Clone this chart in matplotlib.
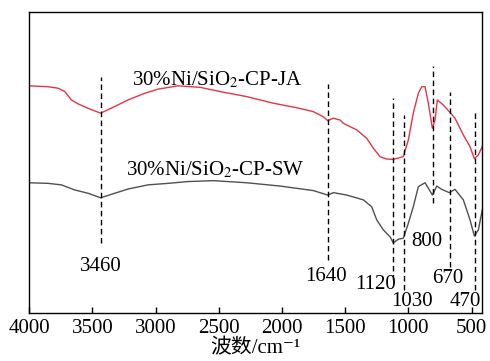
import numpy as np
import matplotlib
matplotlib.use("Agg")
import matplotlib.pyplot as plt

plt.rcParams['font.family'] = ['Liberation Serif', 'Noto Sans CJK SC', 'DejaVu Serif']
plt.rcParams['mathtext.fontset'] = 'stix'

# FTIR spectra (transmittance, a.u. with offset)
wn_ja = [4000, 3850, 3771, 3718, 3666, 3613, 3534, 3434, 3323, 3218, 3086, 2980, 2822,
         2648, 2490, 2279, 2068, 1883, 1752, 1673, 1638, 1593, 1540, 1514, 1408, 1329,
         1277, 1224, 1171, 1119, 1040, 1000, 961, 921, 894, 868, 842, 810, 789, 771,
         723, 670, 631, 565, 512, 478, 446, 415]
t_ja = [75.8, 75.5, 75.0, 73.9, 71.1, 69.8, 68.3, 66.7, 68.9, 71.1, 73.3, 74.7, 75.8,
        75.3, 73.9, 72.2, 70.0, 68.5, 67.2, 65.5, 64.2, 65.0, 64.4, 63.3, 61.1, 58.3,
        55.0, 52.2, 51.4, 51.3, 52.2, 57.8, 66.7, 73.3, 75.5, 75.5, 70.0, 61.7, 64.4, 71.1,
        69.4, 66.9, 65.0, 59.4, 55.5, 51.5, 52.8, 55.6]

wn_sw = [4000, 3850, 3745, 3639, 3534, 3434, 3323, 3218, 3059, 2901, 2743, 2543, 2279,
         2015, 1752, 1638, 1593, 1540, 1487, 1356, 1290, 1250, 1198, 1145, 1119, 1079,
         1040, 1000, 961, 921, 868, 842, 810, 775, 736, 676, 631, 565, 512, 478, 446, 415]
t_sw = [43.5, 43.3, 42.8, 41.1, 40.0, 38.5, 40.0, 41.4, 42.8, 43.3, 43.9, 44.2, 43.5,
        42.4, 40.9, 39.4, 40.2, 39.8, 39.4, 37.8, 35.5, 31.1, 27.8, 25.5, 23.5, 24.7,
        25.0, 30.0, 35.5, 42.2, 43.5, 41.7, 39.4, 42.4, 41.3, 40.2, 41.3, 37.8, 31.1, 25.8,
        27.8, 34.5]

# band markers: drawn position, label text, line extent, label anchor
band_pos = [3435, 1633, 1119, 1034, 807, 670, 472]
band_txt = ['3460', '1640', '1120', '1030', '800', '670', '470']
band_top = [78.9, 76.4, 71.7, 66.1, 82.4, 73.8, 67.4]
band_bot = [23.4, 17.8, 11.1, 7.8, 36.8, 15.4, 7.8]
label_x = [3434, 1654, 1263, 973, 852, 686, 546]
label_y = [14.2, 10.9, 8.0, 2.5, 22.4, 10.0, 2.5]

fig = plt.figure(figsize=(4.9, 3.61), dpi=100)
ax = fig.add_axes([0.0594, 0.1321, 0.9249, 0.8347])

ax.plot(wn_ja, t_ja, color='#e4354a', lw=1.0)
ax.plot(wn_sw, t_sw, color='#505050', lw=1.0)

for p, t, y1, y0, lx, ly in zip(band_pos, band_txt, band_top, band_bot, label_x, label_y):
    ax.plot([p, p], [y0, y1], color='black', lw=1.0, ls=(0, (4, 2.5)))
    ax.text(lx, ly, t, fontsize=15, ha='center', va='baseline')

ax.text(2514, 76.1, '30%Ni/SiO$_2$-CP-JA', fontsize=15, ha='center', va='baseline')
ax.text(2525, 46.1, '30%Ni/SiO$_2$-CP-SW', fontsize=15, ha='center', va='baseline')

ax.set_xlim(4000, 415)
ax.set_ylim(0, 100.4)
ax.set_xticks([4000, 3500, 3000, 2500, 2000, 1500, 1000, 500])
ax.tick_params(axis='x', direction='in', length=4, width=1, labelsize=15, pad=4)
ax.set_yticks([])
for s in ax.spines.values():
    s.set_linewidth(1.0)

ax.set_xlabel('波数/cm⁻¹', fontsize=15, labelpad=1)

fig.savefig('out.png', dpi=100)
